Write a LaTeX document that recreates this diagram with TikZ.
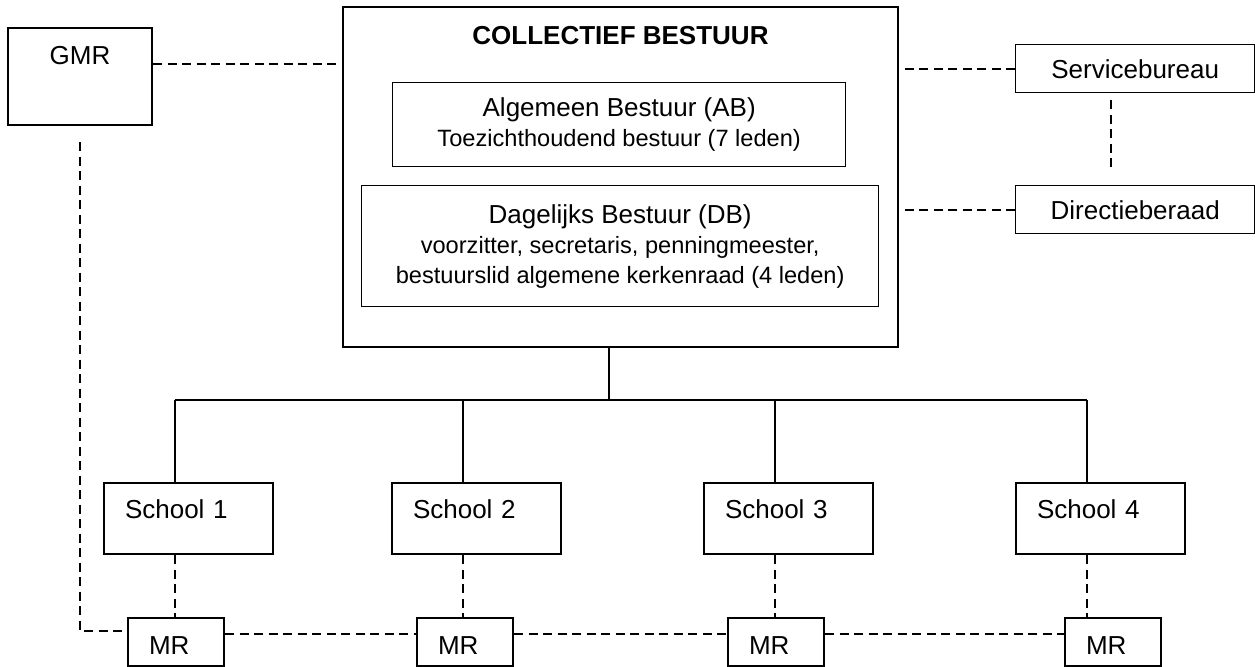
\documentclass[tikz,border=0pt]{standalone}
\usepackage{fontspec}
\setmainfont{Liberation Sans}
\newcommand\subfont{\fontsize{11.8}{13.5}\selectfont}
\begin{document}
\begin{tikzpicture}[x=.5pt,y=-.5pt,
	box/.style={draw, line width=1pt, anchor=north west, inner sep=0pt, font=\fontsize{13}{15}\selectfont},
	thinbox/.style={box, line width=.7pt},
	schoolbox/.style={box, align=left, inner xsep=10.5pt},
	dashlink/.style={draw, line width=.8pt, dash pattern=on 4.5pt off 2.75pt},
	trunk/.style={draw, line width=1pt}]
	\useasboundingbox (0,0) rectangle (1255,666);

	\node[box, minimum width=72pt, text height=18pt, text depth=30.5pt] (gmr) at (7,27) {GMR};
	\node[box, minimum width=277.5pt, text height=18.5pt, text depth=151.5pt, font=\fontsize{13}{15}\selectfont\bfseries] (bestuur) at (342,6) {COLLECTIEF BESTUUR};
	\node[thinbox, minimum width=226.5pt, minimum height=42pt, align=center] (ab) at (392,82) {Algemeen Bestuur (AB)\\\subfont Toezichthoudend bestuur (7 leden)};
	\node[thinbox, minimum width=258.5pt, minimum height=60.5pt, align=center] (db) at (361,185) {Dagelijks Bestuur (DB)\\\subfont voorzitter, secretaris, penningmeester,\\\subfont bestuurslid algemene kerkenraad (4 leden)};
	\node[thinbox, minimum width=119.5pt, minimum height=24pt] (service) at (1015,44) {Servicebureau};
	\node[thinbox, minimum width=119.5pt, minimum height=24pt] (directie) at (1015,185) {Directieberaad};

	\foreach \i/\sx/\mx in {1/103/127, 2/391/416, 3/703/727, 4/1015/1064} {
		\node[schoolbox, text width=63.5pt, text height=17.5pt, text depth=18pt] (school\i) at (\sx,482) {School \i};
		\node[schoolbox, text width=27pt, text height=18pt, text depth=6pt] (mr\i) at (\mx,617) {MR};
		\coordinate (d\i) at ([xshift=36pt]school\i.north west);
	}

	% bestuur naar scholen
	\coordinate (top) at ([xshift=-5.75pt]bestuur.south);
	\coordinate (bus) at (top |- 0,400);
	\draw[trunk] (top) -- (bus);
	\draw[trunk] (d1 |- bus) -- (d4 |- bus);
	\foreach \i in {1,...,4} {
		\draw[trunk] (d\i |- bus) -- (d\i);
		\draw[dashlink] (school\i.south -| d\i) -- (mr\i.north -| d\i);
	}
	\foreach \a/\b in {1/2,2/3,3/4}
		\draw[dashlink] ([yshift=-8.5pt]mr\a.north east) -- ([yshift=-8.5pt]mr\b.north west);

	% GMR
	\coordinate (g) at ([yshift=-18.5pt]gmr.north east);
	\draw[dashlink] (g) -- (g -| bestuur.west);
	\draw[dashlink] ([yshift=-8pt]gmr.south) |- ([yshift=-7pt]mr1.north west);

	% servicebureau en directieberaad
	\draw[dashlink] (service.west) -- (service.west -| bestuur.east);
	\draw[dashlink] (directie.west) -- (directie.west -| bestuur.east);
	\draw[dashlink, shorten <=3.5pt, shorten >=6.5pt] ([xshift=48pt]service.south west) -- ([xshift=48pt]directie.north west);
\end{tikzpicture}
\end{document}
